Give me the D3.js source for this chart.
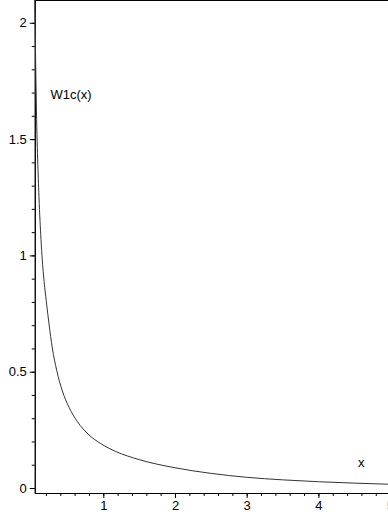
<!DOCTYPE html>
<html><head><meta charset="utf-8">
<script src="https://cdn.jsdelivr.net/npm/d3@7"></script>
<style>
html,body{margin:0;padding:0;background:#fff;}
svg{display:block;}
text{font-family:"Liberation Sans",Arial,sans-serif;}
</style></head>
<body>
<script>
// Curve samples
const xs = [0.0446,0.0656,0.103,0.131,0.149,0.183,0.211,0.243,0.289,0.350,0.428,0.522,0.637,0.801,0.964,1.173,1.5,2.0,2.5,3.0,3.5,4.0,4.5,5.0];
const ys = [2.098,1.66,1.252,1.069,0.980,0.863,0.787,0.705,0.602,0.506,0.418,0.347,0.286,0.228,0.191,0.157,0.122,0.087,0.063,0.046,0.035,0.027,0.021,0.016];
const xMajor = [1,2,3,4,5];
const yMajor = [0,0.5,1,1.5,2];
const xMinor = d3.range(0.2,5.01,0.2);
const yMinor = d3.range(0,2.051,0.1);
const curveLabel = "W1c(x)";
const xLabel = "x";

const W=388,H=516;
const svg=d3.select("body").append("svg").attr("width",W).attr("height",H);
const x=d3.scaleLinear().domain([0.044,5.0]).range([34.75,390.1]);
const y=d3.scaleLinear().domain([-0.0215,2.098]).range([493,0]);

// top border line
svg.append("line").attr("x1",x(0.044)).attr("x2",W).attr("y1",0.5).attr("y2",0.5)
  .attr("stroke","#000").attr("stroke-width",1);

// minor ticks
const gxm=svg.append("g").attr("transform",`translate(0,${y(-0.0215)})`)
  .call(d3.axisBottom(x).tickValues(xMinor).tickSize(3).tickSizeOuter(0).tickFormat(""));
const gym=svg.append("g").attr("transform",`translate(${x(0.044)},0)`)
  .call(d3.axisLeft(y).tickValues(yMinor).tickSize(3).tickSizeOuter(0).tickFormat(""));
// major ticks
const gx=svg.append("g").attr("transform",`translate(0,${y(-0.0215)})`)
  .call(d3.axisBottom(x).tickValues(xMajor).tickSize(5).tickSizeOuter(0).tickFormat(d3.format("d")));
const gy=svg.append("g").attr("transform",`translate(${x(0.044)},0)`)
  .call(d3.axisLeft(y).tickValues(yMajor).tickSize(5).tickSizeOuter(0).tickFormat(d=>String(d)));
[gxm,gym,gx,gy].forEach(g=>{
  g.selectAll("path,line").attr("stroke","#000");
  g.selectAll("text").attr("fill","#000").style("font-size","13px").style("font-family","'Liberation Sans',Arial,sans-serif");
});
gx.selectAll("text").attr("dy","0.95em").attr("y",5);
gy.selectAll("text").attr("x",-8);

// curve
const data=xs.map((v,i)=>[v,ys[i]]);
svg.append("path").datum(data)
  .attr("fill","none").attr("stroke","#333").attr("stroke-width",1)
  .attr("d",d3.line().x(d=>x(d[0])).y(d=>y(d[1])).curve(d3.curveMonotoneX));

svg.append("text").attr("x",50.5).attr("y",99).attr("font-size",13).attr("fill","#000").text(curveLabel);
svg.append("text").attr("x",358).attr("y",467).attr("font-size",13).attr("fill","#000").text(xLabel);
</script>
</body></html>
